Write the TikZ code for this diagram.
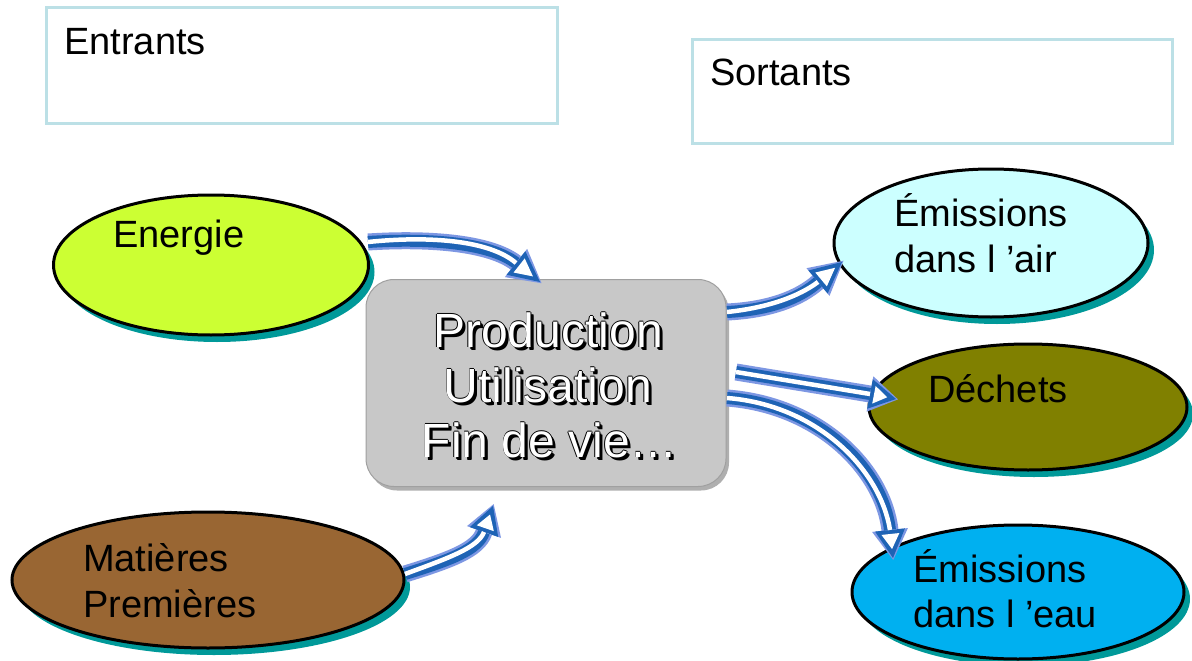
\documentclass[tikz,border=0pt]{standalone}
\usepackage{fontspec}
\setmainfont{Liberation Sans}
\usetikzlibrary{calc,shapes.geometric,shadows}
\definecolor{boxline}{HTML}{BCE0E6}
\definecolor{lime}{HTML}{CCFF33}
\definecolor{brownfill}{HTML}{996633}
\definecolor{airfill}{HTML}{CCFFFF}
\definecolor{olivefill}{HTML}{808000}
\definecolor{eaufill}{HTML}{00B0F0}
\definecolor{shadowteal}{HTML}{009999}
\definecolor{grayfill}{HTML}{C8C8C8}
\definecolor{grayshadow}{HTML}{9C9C9C}
\definecolor{arrowlight}{HTML}{7D97E3}
\definecolor{arrowdark}{HTML}{1E63B5}
\newcommand{\fathead}[2]{%
  \coordinate (#1i) at ($(#1)!4pt!(#2)$);
  \coordinate (#2i) at ($(#2)!9pt!(#1)$);
  \fill[arrowlight] ($(#1)!18pt!90:(#2)$) -- ($(#2)!-2pt!(#1)$) -- ($(#1)!18pt!-90:(#2)$) -- cycle;
  \fill[arrowdark] ($(#1)!15pt!90:(#2)$) -- (#2) -- ($(#1)!15pt!-90:(#2)$) -- cycle;
}
\newcommand{\fatheadwhite}[2]{%
  \fill[white] ($(#1i)!9pt!90:(#2)$) -- (#2i) -- ($(#1i)!9pt!-90:(#2)$) -- cycle;
}
\tikzset{
  label38/.style={inner sep=0pt, anchor=base west, font=\fontsize{38}{45}\selectfont},
  oval/.style={ellipse, draw=black, line width=3pt, inner sep=0pt,
    drop shadow={shadow xshift=6pt, shadow yshift=-7pt, fill=shadowteal, opacity=1}},
  framebox/.style={rectangle, draw=boxline, line width=3pt, inner sep=0pt},
  centertext/.style={inner sep=0pt, anchor=base, font=\fontsize{48}{55}\selectfont},
  shaftlight/.style={draw=arrowlight, line width=17pt},
  shaftdark/.style={draw=arrowdark, line width=12pt},
  shaftwhite/.style={draw=white, line width=4.5pt, yshift=2.5pt},
}
\begin{document}
\begin{tikzpicture}[x=1pt,y=-1pt]
\useasboundingbox (0,0) rectangle (1192,661);
\fill[white] (0,0) rectangle (1192,661);

% frames
\node[framebox, minimum width=511pt, minimum height=115pt] (entbox) at (301.5,65.5) {};
\node[label38] (enttext) at (64,55) {Entrants};
\node[framebox, minimum width=480pt, minimum height=103pt] (sortbox) at (932,91.5) {};
\node[label38] (sorttext) at (710,85) {Sortants};

% ellipses
\node[oval, fill=lime, minimum width=315pt, minimum height=140pt] (energie) at (211,265) {};
\node[label38] (energietext) at (113,247) {Energie};
\node[oval, fill=brownfill, minimum width=392pt, minimum height=136pt] (matieres) at (208,580) {};
\node[label38] (mat1) at (83,571) {Matières};
\node[label38] (mat2) at (83,617) {Premières};
\node[oval, fill=airfill, minimum width=314pt, minimum height=148pt] (air) at (991,243) {};
\node[label38] (air1) at (894,226) {Émissions};
\node[label38] (air2) at (894,272) {dans l ’air};
\node[oval, fill=olivefill, minimum width=318pt, minimum height=126pt] (dechets) at (1028,407) {};
\node[label38] (dech1) at (928,402) {Déchets};
\node[oval, fill=eaufill, minimum width=332pt, minimum height=134pt] (eau) at (1018,592) {};
\node[label38] (eau1) at (913,582) {Émissions};
\node[label38] (eau2) at (913,627) {dans l ’eau};

% central box
\node[rectangle, rounded corners=28pt, fill=grayfill, draw=grayfill!80!black, line width=1pt,
      minimum width=360pt, minimum height=207pt, inner sep=0pt,
      drop shadow={shadow xshift=3pt, shadow yshift=-4pt, fill=grayshadow, opacity=0.8}] (centre) at (546,383) {};
\foreach \dx/\dy in {2.2/2.2, 3/3, -0.8/0, 0.8/0, 0/-0.8, 0/0.8}{
  \node[centertext, text=black] (ps) at (548+\dx,347+\dy) {Production};
  \node[centertext, text=black] (us) at (548+\dx,402+\dy) {Utilisation};
  \node[centertext, text=black] (fs) at (550+\dx,457+\dy) {Fin de vie\ldots};
}
\node[centertext, text=white] (pt) at (548,347) {Production};
\node[centertext, text=white] (ut) at (548,402) {Utilisation};
\node[centertext, text=white] (ft) at (550,457) {Fin de vie\ldots};

% arrows
\coordinate (S1) at (368,242); \coordinate (B1) at (516,263); \coordinate (T1) at (540,282);
\coordinate (S2) at (405,574); \coordinate (B2) at (484,532); \coordinate (T2) at (493,506);
\coordinate (S3) at (727,312); \coordinate (B3) at (818,282); \coordinate (T3) at (842,262);
\coordinate (S4) at (736,372); \coordinate (B4) at (870,394); \coordinate (T4) at (896,399);
\coordinate (S5) at (727,398); \coordinate (B5) at (890,530); \coordinate (T5) at (893,558);

% arrow 1
\draw[shaftlight] (S1) .. controls (430,238) and (490,243) .. (B1);
\draw[shaftdark] (S1) .. controls (430,238) and (490,243) .. (B1);
\fathead{B1}{T1}
\draw[shaftwhite] (S1) .. controls (430,238) and (490,243) .. (B1);
\fatheadwhite{B1}{T1}
% arrow 2
\draw[shaftlight] (S2) .. controls (450,560) and (478,550) .. (B2);
\draw[shaftdark] (S2) .. controls (450,560) and (478,550) .. (B2);
\fathead{B2}{T2}
\draw[shaftwhite] (S2) .. controls (450,560) and (478,550) .. (B2);
\fatheadwhite{B2}{T2}
% arrow 3
\draw[shaftlight] (S3) .. controls (770,310) and (800,298) .. (B3);
\draw[shaftdark] (S3) .. controls (770,310) and (800,298) .. (B3);
\fathead{B3}{T3}
\draw[shaftwhite] (S3) .. controls (770,310) and (800,298) .. (B3);
\fatheadwhite{B3}{T3}
% arrow 4
\draw[shaftlight] (S4) -- (B4);
\draw[shaftdark] (S4) -- (B4);
\fathead{B4}{T4}
\draw[shaftwhite] (S4) -- (B4);
\fatheadwhite{B4}{T4}
% arrow 5
\draw[shaftlight] (S5) .. controls (820,405) and (883,470) .. (B5);
\draw[shaftdark] (S5) .. controls (820,405) and (883,470) .. (B5);
\fathead{B5}{T5}
\draw[shaftwhite, yshift=-2.5pt, xshift=-2.5pt] (S5) .. controls (820,405) and (883,470) .. (B5);
\fatheadwhite{B5}{T5}
\end{tikzpicture}
\end{document}
